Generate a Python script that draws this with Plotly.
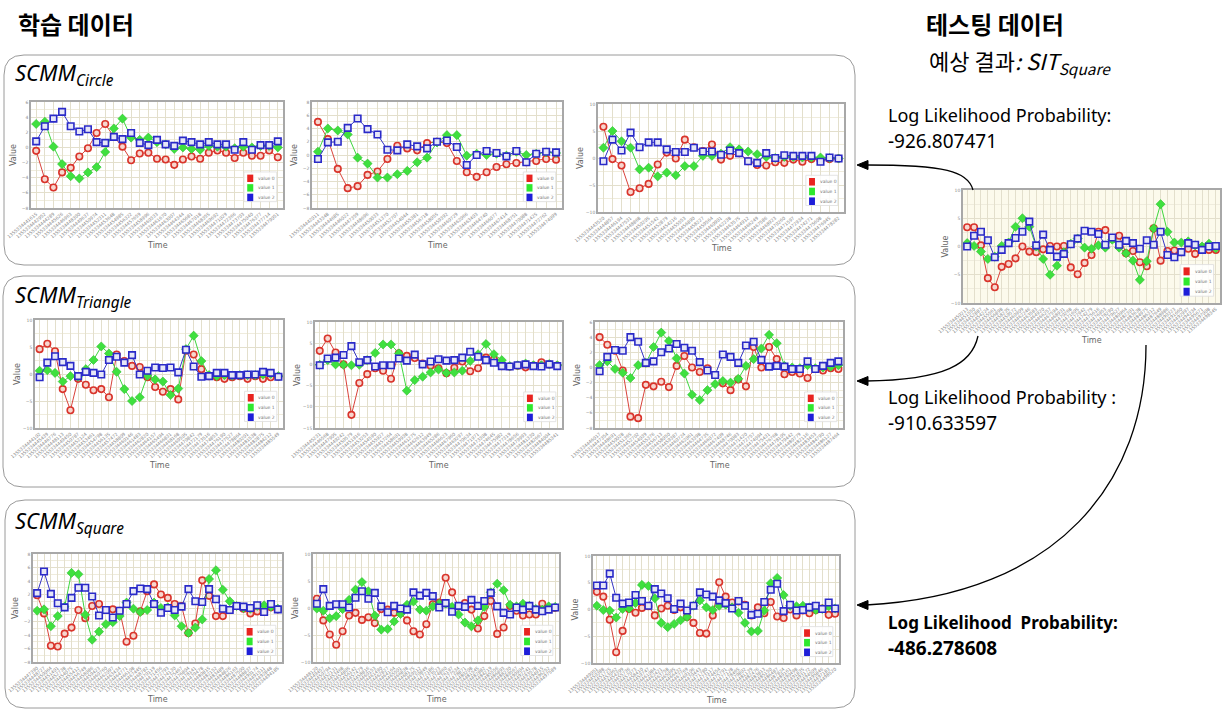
import plotly.graph_objects as go

W, H = 1230, 712

# ---------------- data ----------------
circle1_v0 = [-0.45, -4.2, -5.3, -3.3, -2.7, -1.2, -0.1, 1.9, 3.1, 1.4, 0.1, -1.7, -0.8, -0.7, -1.5, -1.6, -2.3, -1.6, -1.2, -1.5, -0.7, -0.4, -0.7, -1.4, -0.7, -1.1, -1.1, -0.4, -1.3]
circle1_v1 = [3.1, 3.4, 0.1, -2.2, -3.8, -4.1, -3.3, -2.6, -0.6, 2.5, 3.8, 1.3, 1.0, 1.3, 0.7, 0.4, -0.2, 0.0, -0.2, -0.3, 0.2, 0.1, 0.1, -0.1, 0.1, 0.0, 0.2, 0.2, 0.0]
circle1_v2 = [0.8, 2.8, 3.8, 4.7, 2.8, 2.1, 2.4, 0.7, 0.6, 1.4, 1.1, 1.9, 0.6, 0.3, 1.0, 0.4, 0.2, 0.9, 0.7, 0.4, 0.7, 0.4, 0.4, -0.3, 0.7, -0.3, 0.3, 0.3, 0.8]

circle2_v0 = [5.0, 2.4, -2.1, -5.0, -4.7, -3.0, -2.5, -0.6, 1.4, 1.0, 0.7, 1.8, 2.0, 1.8, -0.9, -2.6, -3.3, -2.6, -1.8, -1.4, -1.2, -1.1, -0.9, -0.6, -0.7]
circle2_v1 = [0.5, 4.0, 3.7, 3.1, -0.4, -1.3, -3.4, -3.4, -2.9, -2.4, -1.1, -0.4, 1.9, 3.0, 3.0, -0.1, 0.2, 0.0, 0.2, -0.1, 0.5, 0.0, 0.2, 0.4, 0.3]
circle2_v2 = [-0.6, 1.9, 2.0, 4.1, 5.5, 3.9, 3.1, 0.8, 0.7, 1.6, 1.3, 1.0, 2.0, 2.2, 1.2, -1.5, 0.0, 0.6, 0.3, -0.2, 0.6, -1.1, 0.2, 0.5, 0.4]

circle3_v0 = [5.8, -0.2, -1.4, -6.3, -5.6, -4.8, -1.2, 1.0, -0.1, 3.4, 2.0, 1.3, 2.5, -0.3, 0.4, 0.9, -0.6, -1.3, -1.4, -0.8, -0.9, -0.3, -0.7, -0.2, -0.4, -0.2, -0.1]
circle3_v1 = [1.9, 5.0, 3.1, 1.9, -2.1, -1.8, -3.4, -2.7, -3.2, -1.5, -1.5, 0.4, 0.4, 0.8, 2.0, 1.6, 1.2, 0.7, 0.2, 0.0, 0.2, 0.2, 0.1, 0.1, 0.1, 0.0, -0.1]
circle3_v2 = [-0.6, 3.4, 1.4, 4.7, 2.0, 2.9, 2.9, 1.6, 1.1, 1.1, 1.9, 1.2, 1.2, 0.6, 1.4, 0.9, -0.6, -0.9, 0.9, 0.0, 0.5, 0.4, 0.4, 0.4, -0.7, 0.1, -0.1]

triangle1_v0 = [4.6, 5.6, 4.2, -2.8, -6.7, -0.9, -2.0, -3.0, -2.8, -4.3, 3.6, 2.4, 1.5, 1.3, -0.6, -2.4, -3.3, -2.8, -4.7, 4.3, 3.6, 0.9, -0.4, -0.6, -0.9, -0.6, -0.4, -0.9, -0.4, -0.9, -0.6, -0.5]
triangle1_v1 = [0.6, 0.7, 0.2, -1.4, -0.4, -0.5, 0.9, 2.6, 5.1, 3.8, 0.4, -2.8, -5.0, -4.3, -0.3, -1.0, -1.4, -3.9, -2.7, 4.6, 7.1, 2.4, -0.2, -0.4, -0.2, -0.3, -0.2, -0.2, -0.2, -0.1, 0.0, -0.4]
triangle1_v2 = [-0.6, 2.1, 3.3, 2.2, 1.5, -0.4, 0.4, 0.2, -0.1, 2.6, 3.2, 2.1, 3.5, -0.1, 0.6, 1.2, 1.1, 1.2, 0.3, 4.5, 1.4, -0.5, -0.4, 0.2, 0.2, -0.2, -0.2, -0.1, -0.1, 0.4, 0.2, -0.5]

triangle2_v0 = [3.2, 6.1, 2.8, 0.0, -11.9, -4.4, -2.3, -0.9, -1.5, -3.4, 2.6, 2.0, 1.5, 0.2, -0.3, -0.9, -2.1, -0.8, 0.7, -1.6, -0.9, 1.6, 1.2, -0.4, -0.5, -0.3, -0.7, -0.3, 0.5, 0.0, -0.3]
triangle2_v1 = [-0.1, 1.0, 0.0, -0.1, -0.2, -0.1, 1.0, 2.7, 4.7, 4.7, 2.6, -6.2, -3.7, -2.9, -1.9, -1.2, -2.0, -1.9, -1.5, 0.8, 2.4, 4.8, 2.4, 1.0, -0.4, -0.2, 0.2, -0.2, -0.2, 0.1, -0.2]
triangle2_v2 = [-0.2, 1.4, 1.6, 2.2, 4.3, 0.5, 1.0, -0.5, -0.2, -0.2, 1.4, 0.9, 2.3, 0.0, 0.7, 1.2, 0.9, 1.0, 1.6, 3.0, 1.8, 1.0, 0.4, -0.4, -0.5, -0.2, 0.0, -0.4, -0.5, 0.0, -0.4]

triangle3_v0 = [4.0, 3.0, 2.2, -0.4, -6.5, -6.7, -2.3, -2.5, -1.9, -2.6, 0.2, 1.5, 0.0, -0.6, -0.1, -1.0, -2.1, -3.0, -1.6, -2.5, 2.7, 0.0, 2.7, 1.1, -0.9, -0.6, -0.8, -1.4, -0.2, -0.4, -0.1, -0.2]
triangle3_v1 = [0.3, 0.8, -0.2, -0.7, -1.4, 0.3, 0.6, 2.7, 4.6, 3.5, 1.2, -0.8, -3.6, -4.3, -3.0, -2.2, -1.8, -2.0, -1.5, 0.2, 1.1, 2.5, 4.3, 3.2, 0.2, 0.0, -0.1, 0.3, -0.1, 0.0, 0.1, 0.3]
triangle3_v2 = [-0.5, 1.4, 2.3, 2.2, 4.0, 3.4, 0.6, 0.8, 2.0, 2.5, 3.1, 2.6, 2.2, 0.7, -0.4, -1.0, 1.7, 1.4, 0.6, 2.9, 3.4, 1.0, 0.1, 0.2, 0.1, -0.2, -0.2, 0.8, -0.2, 0.2, 0.6, 0.8]

square1_v0 = [1.9, -0.8, -5.6, -5.7, -3.8, -2.9, -0.3, -1.5, 0.3, 0.6, -0.3, -0.2, -0.4, -5.0, -4.1, -0.5, 2.5, 3.5, 2.0, 1.5, 0.6, 0.3, -3.7, -2.3, 4.1, 1.8, -1.2, -1.2, -0.3, 0.3, -0.1, -0.8, -0.5, -0.6, 0.1, -0.2]
square1_v1 = [-0.4, -0.2, -2.7, -1.2, 0.2, 5.2, 5.0, -1.0, -4.7, -3.5, -2.4, -2.1, -1.2, 0.8, -0.1, -0.6, -0.3, 0.8, 0.0, 0.1, -1.1, -2.7, -3.7, -2.9, -1.7, 4.3, 5.6, 2.7, 1.0, 0.3, 0.0, -0.1, 0.3, 0.4, 0.2, -0.1]
square1_v2 = [2.2, 5.4, 2.1, 0.7, 0.1, 1.5, 3.0, 3.0, 1.7, -1.1, -0.3, -1.4, -0.4, 0.6, 2.5, 2.9, 2.8, 0.6, -0.7, 0.0, -0.3, 0.2, 2.8, 1.0, 0.9, 2.8, 1.3, -0.1, -0.3, 0.3, 0.2, 0.0, 0.4, -0.6, 0.6, -0.2]

square2_v0 = [1.7, -2.3, -4.9, -6.8, -4.3, -1.4, -0.9, -2.2, -1.7, -2.8, -0.2, -0.3, -0.9, -0.9, -2.3, -4.3, -4.9, -3.0, 0.7, 1.0, 5.6, 2.9, 0.3, 0.9, -0.3, -3.8, -1.5, 1.3, -4.8, -3.6, 0.4, -0.5, -1.4, -1.2, -1.2, 0.8, -0.1, 0.0]
square2_v1 = [-0.1, -0.5, -1.9, -1.5, -0.2, 1.5, 3.4, 4.8, 3.1, -1.4, -4.0, -3.9, -2.5, -1.1, 0.6, 1.2, -0.3, -0.5, 0.3, 0.8, 0.8, 0.2, -1.2, -2.7, -3.4, -2.3, 0.2, 2.9, 4.5, 3.3, 0.6, 0.3, 0.8, 0.4, -0.2, -0.3, 0.3, 0.2]
square2_v2 = [0.8, 3.5, 0.4, 0.7, 0.7, 0.1, 1.9, 3.1, 1.7, 2.8, 0.3, -0.8, 0.4, -0.1, -0.3, 2.9, 2.3, 2.8, 2.2, 0.1, 0.9, -0.7, 0.4, 0.2, 1.5, 0.4, 1.3, 2.8, 0.3, -0.9, -1.2, 0.1, -0.3, 0.4, -0.3, -0.6, -0.3, 0.1]

square3_v0 = [3.3, 2.4, -1.9, -8.0, -4.0, 0.1, -0.6, 0.3, 0.6, -1.1, 0.2, 0.7, -0.1, 0.4, -1.4, -2.5, -4.4, -4.5, -1.1, 5.1, 2.4, 1.3, 1.5, 0.9, -1.1, 0.4, -0.7, 1.4, -1.3, -1.6, 0.0, -1.1, -0.2, -0.7, -0.1, 0.2, -1.0, -0.8]
square3_v1 = [0.7, -0.1, -0.2, -1.5, 0.1, 0.2, 1.2, 4.6, 4.4, 2.1, -2.5, -3.3, -2.7, -2.0, -1.4, 0.7, 1.7, 0.4, -0.1, 0.7, 0.9, 0.4, -0.6, -2.5, -4.1, -4.0, -0.2, 4.9, 5.9, 2.7, 0.7, 0.6, 0.7, 0.4, -0.1, 0.1, 0.6, 0.2]
square3_v2 = [4.5, 4.5, 6.7, 2.2, 1.1, 1.3, 2.7, 1.6, 0.7, 3.8, 3.0, 2.1, 0.1, 1.1, -0.2, 0.7, 3.2, 2.8, 2.4, 1.7, 1.2, 0.2, 1.6, 0.7, -1.0, -0.8, 1.4, 3.7, 4.8, -0.3, 0.9, -0.2, -0.1, 0.4, 0.7, 0.1, 1.3, 0.2]

test_v0 = [3.4, 3.4, 0.2, -5.6, -7.2, -3.6, -3.1, -2.1, 0.0, -0.9, -1.0, -0.5, 0.1, 0.0, 0.1, -3.7, -4.9, -2.9, -1.5, 2.6, 2.9, 1.5, 1.9, -1.2, -0.8, -2.8, -3.5, 3.2, -2.5, -0.8, -0.7, -1.0, -0.4, -1.3, -0.2, -0.6, -0.6]
test_v1 = [0.6, 0.1, -0.9, -2.2, -1.8, 0.1, 0.7, 3.5, 5.0, 3.5, 0.0, -2.2, -5.0, -3.4, -1.0, 0.5, 1.4, -0.2, -0.4, 0.2, -0.2, 1.2, -0.2, -1.2, -2.5, -5.9, -2.6, 3.2, 7.5, 2.6, 0.7, 0.7, 0.9, 0.2, 0.0, 0.5, -0.3]
test_v2 = [0.0, 1.9, 2.6, 1.1, -1.9, -0.6, 0.6, 1.5, 2.6, 4.4, 0.2, 2.1, -0.6, -1.8, -1.3, 0.4, 1.4, 2.8, 2.6, 2.2, 0.3, 1.6, 0.3, 1.0, 0.6, -0.4, 1.1, 0.3, 2.6, -1.5, -1.9, -1.0, 0.6, 0.3, -0.6, 0.0, 0.1]

series_names = ["value 0", "value 1", "value 2"]
group_titles = ["Circle", "Triangle", "Square"]
log_likelihoods = ["-926.807471", "-910.633597", "-486.278608"]
time_starts = [1355334441615, 1355334442011, 1355334443520, 1355334444102, 1355334445231,
               1355334446017, 1355334447390, 1355334448120, 1355334449051, 1355334450213]

# ---------------- layout helpers ----------------
def X(px):
    return px / W

def Y(py):
    return 1 - py / H

colors_line = ["#d9433a", "#3fd63f", "#3535c4"]

charts = [
    dict(v=(circle1_v0, circle1_v1, circle1_v2), box=(31, 102, 283, 208), yr=(-8, 6), dt=2),
    dict(v=(circle2_v0, circle2_v1, circle2_v2), box=(312, 102, 562, 208), yr=(-8, 8), dt=2),
    dict(v=(circle3_v0, circle3_v1, circle3_v2), box=(598, 104, 844, 212), yr=(-10, 10), dt=5),
    dict(v=(triangle1_v0, triangle1_v1, triangle1_v2), box=(35, 320, 283, 428), yr=(-10, 10), dt=5),
    dict(v=(triangle2_v0, triangle2_v1, triangle2_v2), box=(315, 322, 562, 428), yr=(-15, 10), dt=5),
    dict(v=(triangle3_v0, triangle3_v1, triangle3_v2), box=(595, 322, 843, 428), yr=(-8, 6), dt=2),
    dict(v=(square1_v0, square1_v1, square1_v2), box=(33, 554, 282, 662), yr=(-8, 8), dt=2),
    dict(v=(square2_v0, square2_v1, square2_v2), box=(313, 554, 559, 662), yr=(-10, 10), dt=5),
    dict(v=(square3_v0, square3_v1, square3_v2), box=(593, 556, 839, 663), yr=(-10, 10), dt=5),
    dict(v=(test_v0, test_v1, test_v2), box=(963, 190, 1220, 303), yr=(-10, 10), dt=5),
]

fig = go.Figure()
layout_axes = {}
shapes = []
annotations = []

for i, ch in enumerate(charts):
    k = i + 1
    xa = "x" if k == 1 else f"x{k}"
    ya = "y" if k == 1 else f"y{k}"
    n = max(len(s) for s in ch["v"])
    xs_all = list(range(n))
    labels = [str(time_starts[i] + j * 1337) for j in range(n)]
    for s_idx, vals in enumerate(ch["v"]):
        xs = list(range(len(vals)))
        if s_idx == 0:
            marker = dict(symbol="circle", size=6.5, color="#f7d6cf",
                          line=dict(color="#d9342b", width=1.6))
        elif s_idx == 1:
            marker = dict(symbol="diamond", size=7, color="#3fe03f",
                          line=dict(color="#2fbf2f", width=0.6))
        else:
            marker = dict(symbol="square", size=6.5, color="#e6e6f7",
                          line=dict(color="#2a2ac8", width=1.6))
        fig.add_trace(go.Scatter(
            x=xs, y=vals, mode="lines+markers", name=series_names[s_idx],
            line=dict(color=colors_line[s_idx], width=1), marker=marker,
            xaxis=xa, yaxis=ya, showlegend=False, hoverinfo="skip"))

    x0, y0, x1, y1 = ch["box"]
    pad = 0.6
    layout_axes[("xaxis" if k == 1 else f"xaxis{k}")] = dict(
        domain=[X(x0), X(x1)], anchor=ya, range=[-pad, n - 1 + pad],
        tickmode="array", tickvals=xs_all, ticktext=labels, tickangle=-40,
        tickfont=dict(size=4.5, color="#8a8a8a", family="DejaVu Sans"),
        showgrid=True, gridcolor="#e3dfcc", gridwidth=1, zeroline=False,
        showline=True, mirror=True, linecolor="#a8a8a8", linewidth=1.5,
        ticks="", automargin=False, fixedrange=True)
    layout_axes[("yaxis" if k == 1 else f"yaxis{k}")] = dict(
        domain=[Y(y1), Y(y0)], anchor=xa, range=list(ch["yr"]), dtick=ch["dt"],
        tick0=0, tickfont=dict(size=4.5, color="#8a8a8a", family="DejaVu Sans"),
        showgrid=True, gridcolor="#e3dfcc", gridwidth=1, zeroline=False,
        minor=dict(dtick=ch["dt"] / 2, showgrid=True, gridcolor="#efecdd", gridwidth=1),
        showline=True, mirror=True, linecolor="#a8a8a8", linewidth=1.5,
        ticks="", automargin=False, fixedrange=True)

    xd = f"{xa} domain"
    yd = f"{ya} domain"
    # axis titles
    annotations.append(dict(text="Time", xref=xd, yref=yd, x=0.5, y=0, yshift=-37,
                            showarrow=False, font=dict(size=8, color="#666", family="DejaVu Sans"),
                            xanchor="center", yanchor="middle"))
    annotations.append(dict(text="Value", xref=xd, yref=yd, x=0, y=0.5, xshift=-18,
                            textangle=-90, showarrow=False,
                            font=dict(size=8, color="#666", family="DejaVu Sans"),
                            xanchor="center", yanchor="middle"))
    # in-chart legend
    shapes.append(dict(type="rect", xref=xd, yref=yd, x0=0.845, x1=0.975, y0=0.06, y1=0.34,
                       fillcolor="rgba(255,255,255,0.85)", line=dict(color="#dddddd", width=0.8),
                       layer="above"))
    for r, yy in enumerate([0.28, 0.19, 0.10]):
        shapes.append(dict(type="rect", xref=xd, yref=yd, x0=0.858, x1=0.882,
                           y0=yy - 0.035, y1=yy + 0.035,
                           fillcolor=["#e8231f", "#2ee82e", "#1e1ed8"][r],
                           line=dict(width=0), layer="above"))
        annotations.append(dict(text=series_names[r], xref=xd, yref=yd, x=0.893, y=yy,
                                showarrow=False, xanchor="left", yanchor="middle",
                                font=dict(size=4.5, color="#777", family="DejaVu Sans")))

# ---------------- rounded group boxes ----------------
def rbox(x0, y0, x1, y1, r):
    return (f"M {X(x0 + r)},{Y(y0)} L {X(x1 - r)},{Y(y0)} Q {X(x1)},{Y(y0)} {X(x1)},{Y(y0 + r)} "
            f"L {X(x1)},{Y(y1 - r)} Q {X(x1)},{Y(y1)} {X(x1 - r)},{Y(y1)} "
            f"L {X(x0 + r)},{Y(y1)} Q {X(x0)},{Y(y1)} {X(x0)},{Y(y1 - r)} "
            f"L {X(x0)},{Y(y0 + r)} Q {X(x0)},{Y(y0)} {X(x0 + r)},{Y(y0)} Z")

for (bx0, by0, bx1, by1) in [(4, 55, 855, 265), (3, 276, 855, 487), (5, 500, 855, 708)]:
    shapes.append(dict(type="path", path=rbox(bx0, by0, bx1, by1, 20), xref="paper", yref="paper",
                       line=dict(color="#9a9a9a", width=1), fillcolor="white", layer="below"))

# ---------------- arrows ----------------
def pth(cmds):
    out = []
    for c in cmds:
        if isinstance(c, str):
            out.append(c)
        else:
            out.append(f"{X(c[0])},{Y(c[1])}")
    return " ".join(out)

arrow_paths = [
    ["M", (973, 190), "C", (968, 171), (945, 165), (866, 165)],
    ["M", (978, 336), "C", (972, 364), (945, 380), (866, 381)],
    ["M", (1146, 345), "C", (1146, 480), (1060, 595), (866, 605)],
]
for ap in arrow_paths:
    shapes.append(dict(type="path", path=pth(ap), xref="paper", yref="paper",
                       line=dict(color="black", width=1.3), fillcolor="rgba(0,0,0,0)", layer="above"))
for ty in [165, 381, 605]:
    shapes.append(dict(type="path", path=pth(["M", (857, ty), "L", (868, ty - 4.5), "L", (868, ty + 4.5), "Z"]),
                       xref="paper", yref="paper", line=dict(color="black", width=1),
                       fillcolor="black", layer="above"))

# ---------------- text ----------------
KR = "Noto Sans CJK KR"
annotations += [
    dict(text="<b>학습 데이터</b>", x=X(16), y=Y(23), xref="paper", yref="paper", showarrow=False,
         xanchor="left", yanchor="middle", font=dict(size=24, family=KR, color="black")),
    dict(text="<b>테스팅 데이터</b>", x=X(924), y=Y(23), xref="paper", yref="paper", showarrow=False,
         xanchor="left", yanchor="middle", font=dict(size=24, family=KR, color="black")),
    dict(text="예상 결과<i>: SIT<sub>Square</sub></i>", x=X(927), y=Y(61), xref="paper", yref="paper",
         showarrow=False, xanchor="left", yanchor="middle", font=dict(size=22, family=KR, color="black")),
]
for t, ty in zip(group_titles, [74, 296, 522]):
    annotations.append(dict(text=f"<i>SCMM<sub>{t}</sub></i>", x=X(13), y=Y(ty), xref="paper", yref="paper",
                            showarrow=False, xanchor="left", yanchor="middle",
                            font=dict(size=22, family="Noto Sans", color="black")))

ll_labels = ["Log Likelihood Probability:", "Log Likelihood Probability :", "<b>Log Likelihood  Probability:</b>"]
for j, (lab, val, ty) in enumerate(zip(ll_labels, log_likelihoods, [115, 397, 622])):
    v = f"<b>{val}</b>" if j == 2 else val
    lab_size = 17 if j == 2 else 18
    annotations.append(dict(text=lab, x=X(886), y=Y(ty), xref="paper", yref="paper", showarrow=False,
                            xanchor="left", yanchor="middle", font=dict(size=lab_size, family="Noto Sans", color="black")))
    annotations.append(dict(text=v, x=X(886), y=Y(ty + 26), xref="paper", yref="paper", showarrow=False,
                            xanchor="left", yanchor="middle", font=dict(size=19, family="Noto Sans", color="black")))

fig.update_layout(
    width=W, height=H, margin=dict(l=0, r=0, t=0, b=0),
    paper_bgcolor="white", plot_bgcolor="#fcfaec",
    showlegend=False, shapes=shapes, annotations=annotations,
    **layout_axes)

fig.write_html("out.html", config={"displayModeBar": False},
               post_script="document.body.style.margin='0px';document.body.style.overflow='hidden';")
